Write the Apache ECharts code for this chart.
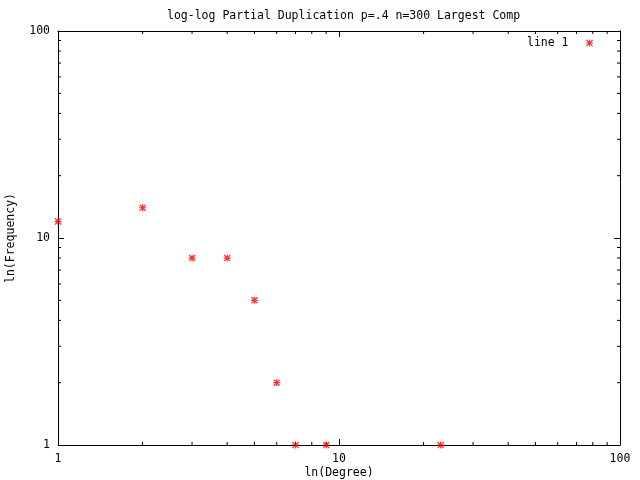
<!DOCTYPE html>
<html><head><meta charset="utf-8">
<script src="https://cdn.jsdelivr.net/npm/echarts@6/dist/echarts.min.js"></script>
<style>html,body{margin:0;padding:0;background:#fff}#c{width:640px;height:480px}</style>
</head><body><div id="c"></div>
<script>
const degree = [1, 2, 3, 4, 5, 6, 7, 9, 23];
const frequency = [12, 14, 8, 8, 5, 2, 1, 1, 1];
const minorTickValues = [2, 3, 4, 5, 6, 7, 8, 9, 20, 30, 40, 50, 60, 70, 80, 90];
const titleText = 'log-log Partial Duplication p=.4 n=300 Largest Comp';
const seriesName = 'line 1';
const xName = 'ln(Degree)';
const yName = 'ln(Frequency)';

const FONT = 'DejaVu Sans Mono';
const FS = 11.5;
const star = 'path://M3.3,0H4.7V8H3.3Z M0,3.3H8V4.7H0Z M0,1L1,0L8,7L7,8Z M7,0L8,1L1,8L0,7Z';

const chart = echarts.init(document.getElementById('c'), null, {renderer: 'canvas'});
const lineStyle = {color: '#000', width: 1};
function logAxis(pos, show) {
  return {
    type: 'log', logBase: 10, min: 1, max: 100, position: pos,
    axisLine: {show: true, onZero: false, lineStyle: lineStyle},
    axisTick: {show: true, inside: true, length: 6, lineStyle: lineStyle},
    axisLabel: {show: show, color: '#000', fontFamily: FONT, fontSize: FS},
    splitLine: {show: false},
    minorTick: {show: false}
  };
}
const xBottom = Object.assign(logAxis('bottom', true), {
  name: xName, nameLocation: 'middle', nameGap: 22, nameMoveOverlap: false,
  nameTextStyle: {color: '#000', fontFamily: FONT, fontSize: FS}
});
xBottom.axisLabel.margin = 8;
const yLeft = Object.assign(logAxis('left', true), {
  name: yName, nameLocation: 'middle', nameGap: 41,
  nameTextStyle: {color: '#000', fontFamily: FONT, fontSize: FS}
});
yLeft.axisLabel.margin = 8;

const option = {
  backgroundColor: '#fff',
  animation: false,
  title: {
    text: titleText, left: 162, top: 5,
    textStyle: {color: '#000', fontFamily: FONT, fontSize: FS, fontWeight: 'normal'}
  },
  legend: {
    data: [seriesName], right: 42, top: 32, align: 'right',
    itemWidth: 32, itemHeight: 7,
    textStyle: {color: '#000', fontFamily: FONT, fontSize: FS}
  },
  grid: {left: 58, right: 20, top: 31, bottom: 35, containLabel: false, outerBoundsMode: 'none'},
  xAxis: [xBottom, logAxis('top', false)],
  yAxis: [yLeft, logAxis('right', false)],
  series: [
    {
      type: 'custom', name: 'minor', xAxisIndex: 0, yAxisIndex: 0, silent: true,
      clip: false, z: 1,
      data: minorTickValues.map(v => [v]),
      renderItem: function (params, api) {
        const v = api.value(0);
        const b = api.coord([v, 1]), t = api.coord([v, 100]);
        const l = api.coord([1, v]), r = api.coord([100, v]);
        const s = {stroke: '#000', lineWidth: 1};
        return {type: 'group', children: [
          {type: 'line', shape: {x1: b[0], y1: b[1], x2: b[0], y2: b[1] - 3}, style: s},
          {type: 'line', shape: {x1: t[0], y1: t[1], x2: t[0], y2: t[1] + 3}, style: s},
          {type: 'line', shape: {x1: l[0], y1: l[1], x2: l[0] + 3, y2: l[1]}, style: s},
          {type: 'line', shape: {x1: r[0], y1: r[1], x2: r[0] - 3, y2: r[1]}, style: s}
        ]};
      }
    },
    {
      type: 'scatter', name: seriesName, xAxisIndex: 0, yAxisIndex: 0,
      symbol: star, symbolSize: 7, symbolKeepAspect: true, clip: false, z: 5,
      itemStyle: {color: '#ff0000'},
      data: degree.map((d, i) => [d, frequency[i]])
    }
  ]
};
chart.setOption(option);
</script>
</body></html>
